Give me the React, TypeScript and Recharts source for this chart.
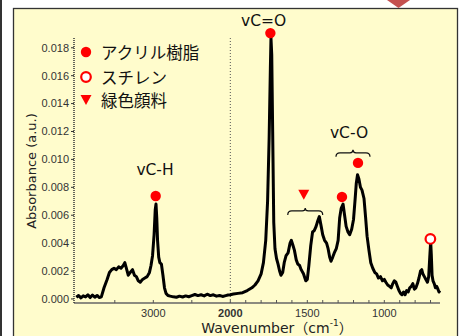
import { ComposedChart, Line, XAxis, YAxis, ReferenceLine, ReferenceDot } from 'recharts'

// spectrum (cm-1 / absorbance)
const wavenumbers = [
  4000, 3970, 3940, 3910, 3880, 3850, 3820, 3790, 3760, 3730, 3700, 3675, 3640, 3600, 3570, 3540, 3510, 3480,
  3450, 3420, 3390, 3370, 3345, 3325, 3300, 3270, 3245, 3220, 3195, 3170, 3140, 3110, 3080, 3050, 3030, 3010,
  2990, 2975, 2965, 2955, 2945, 2930, 2915, 2895, 2875, 2855, 2835, 2810, 2780, 2740, 2700, 2660, 2620, 2580,
  2540, 2500, 2460, 2420, 2380, 2340, 2300, 2260, 2220, 2180, 2140, 2100, 2060, 2030, 2000,
  1980, 1950, 1920, 1890, 1860, 1840, 1820, 1800, 1785, 1770, 1758, 1748, 1740, 1736, 1731, 1725, 1718, 1710,
  1700, 1690, 1680, 1671, 1660, 1650, 1638, 1625, 1612, 1604, 1595, 1584, 1572, 1562, 1550, 1540, 1525, 1510,
  1500, 1490, 1478, 1466, 1455, 1443, 1432, 1422, 1410, 1400, 1388, 1375, 1365, 1355, 1346, 1335, 1325, 1312,
  1300, 1290, 1280, 1268, 1258, 1248, 1236, 1225, 1212, 1200, 1190, 1182, 1174, 1165, 1155, 1145, 1132, 1122,
  1112, 1100, 1088, 1075, 1062, 1050, 1038, 1025, 1012, 1000, 990, 978, 966, 955, 945, 935, 925, 915, 905, 895,
  885, 875, 865, 855, 845, 835, 825, 815, 805, 795, 785, 775, 765, 757, 750, 740, 730, 720, 712, 705, 699, 695,
  690, 684, 676, 668, 660, 652, 645, 640,
]
const absorbance = [
  0.00012, 0.00025, 0.00008, 0.00022, 0.00015, 0.0003, 0.0001, 0.00028, 0.00012, 0.00025, 0.0001, 0.00015, 0.0008,
  0.0014, 0.0019, 0.0021, 0.0022, 0.0021, 0.0023, 0.0022, 0.0024, 0.0026, 0.0021, 0.0017, 0.0019, 0.0021, 0.0017,
  0.0016, 0.0013, 0.0012, 0.0014, 0.0015, 0.0016, 0.0019, 0.0024, 0.0031, 0.0046, 0.0064, 0.0068, 0.0058, 0.0042,
  0.003, 0.0026, 0.0025, 0.0017, 0.0008, 0.0004, 0.00025, 0.0002, 0.00015, 0.00012, 0.0002, 0.00014, 0.00022,
  0.00016, 0.00024, 0.00032, 0.00024, 0.0003, 0.00022, 0.00034, 0.00024, 0.0003, 0.0002, 0.00025, 0.00018,
  0.00024, 0.00028, 0.0003,
  0.00035, 0.0004, 0.00045, 0.0006, 0.0008, 0.001, 0.0013, 0.0018, 0.0026, 0.0042, 0.007, 0.0115, 0.0165, 0.0187,
  0.0175, 0.012, 0.0055, 0.0036, 0.0029, 0.0025, 0.002, 0.0017, 0.0019, 0.0026, 0.0031, 0.0033, 0.004, 0.0042,
  0.0039, 0.0035, 0.0028, 0.0025, 0.0024, 0.0021, 0.0018, 0.0013, 0.0014, 0.0024, 0.0038, 0.0048, 0.0049, 0.0052,
  0.0056, 0.0059, 0.0052, 0.0046, 0.0042, 0.004, 0.0036, 0.003, 0.0027, 0.003, 0.0033, 0.0036, 0.0042, 0.0058,
  0.0065, 0.0068, 0.006, 0.0052, 0.0048, 0.0046, 0.005, 0.0057, 0.0071, 0.0083, 0.0089, 0.0086, 0.008, 0.0078,
  0.0072, 0.0059, 0.0045, 0.0035, 0.0026, 0.0022, 0.0019, 0.0018, 0.0015, 0.0016, 0.0013, 0.0014, 0.0012, 0.001,
  0.0009, 0.0008, 0.0011, 0.0013, 0.0012, 0.0009, 0.0006, 0.0004, 0.0003, 0.0005, 0.0003, 0.0006, 0.0005, 0.0008,
  0.0009, 0.0011, 0.0007, 0.0008, 0.0011, 0.0015, 0.002, 0.0021, 0.0018, 0.0016, 0.0014, 0.0012, 0.0016, 0.003,
  0.0041, 0.0032, 0.0017, 0.0013, 0.0011, 0.0008, 0.0009, 0.0007, 0.0005, 0.0006,
]

const yTicks = [0, 0.002, 0.004, 0.006, 0.008, 0.01, 0.012, 0.014, 0.016, 0.018]
const xTickWavenumbers = [3500, 3000, 2500, 2000, 1900, 1800, 1700, 1600, 1500, 1400, 1300, 1200, 1100, 1000, 900, 800, 700]
const xTickLabels = [3000, 2000, 1500, 1000]

// peak markers
const acrylicPeaks = [2969, 1740, 1275, 1171]
const acrylicHeights = [0.00738, 0.01905, 0.00731, 0.00975]
const styrenePeaks = [701]
const styreneHeights = [0.0043]
const pigmentPeaks = [1523]
const pigmentHeights = [0.00746]

const bandNames = ['vC-H', 'vC=O', 'vC-O']
const bandNameAt = [2978, 1784, 1229]
const bandNameHeight = [0.00925, 0.01993, 0.0119]

const braceFrom = [1314, 1627]
const braceTo = [1093, 1400]
const braceHeight = [0.01047, 0.00631]

const legendNames = ['アクリル樹脂', 'スチレン', '緑色顔料']

// axis is compressed above 2000 cm-1 (half scale)
const BREAK = 2000
const toT = (w: number) => (w >= BREAK ? 4000 - w : 2000 + 2 * (BREAK - w))
const fromT = (t: number) => (t <= 2000 ? 4000 - t : BREAK - (t - 2000) / 2)
const T_MIN = -30
const T_MAX = 4723

const W = 462
const H = 336
const M = { top: 38, right: 22, bottom: 3, left: 0 }
const Y_W = 74
const PX_PER_T = (W - M.right - M.left - Y_W) / (T_MAX - T_MIN)

const data = wavenumbers.map((w, i) => ({ t: toT(w), a: absorbance[i] }))

const RED = '#ff0000'
const tickFont = '"Liberation Sans", Arial, sans-serif'
const textFont = '"DejaVu Sans", "Noto Sans CJK JP", sans-serif'

function XTick(props: any) {
  const { x, y, payload } = props
  const w = Math.round(fromT(payload.value))
  const show = xTickLabels.includes(w)
  return (
    <g>
      <line x1={x} x2={x} y1={y} y2={y - 3} stroke="#555" />
      {show && (
        <text x={x} y={y + 14} textAnchor="middle" fontSize={11} fill="#333" fontFamily={tickFont} fontWeight={w === 2000 ? 'bold' : 'normal'}>
          {w}
        </text>
      )}
    </g>
  )
}

const filledDot = (p: any) => <circle cx={p.cx} cy={p.cy} r={5.2} fill={RED} />
const openDot = (p: any) => <circle cx={p.cx} cy={p.cy} r={4.8} fill="#fff" stroke={RED} strokeWidth={2.2} />
const triangle = (p: any) => (
  <polygon points={`${p.cx - 5.5},${p.cy - 5} ${p.cx + 5.5},${p.cy - 5} ${p.cx},${p.cy + 5}`} fill={RED} />
)

function brace(halfW: number) {
  return (p: any) => {
    const { cx, cy } = p
    const l = cx - halfW
    const r = cx + halfW
    const d = `M${l},${cy + 4} Q${l},${cy} ${l + 4},${cy} L${cx - 3},${cy} Q${cx},${cy} ${cx},${cy - 3} Q${cx},${cy} ${cx + 3},${cy} L${r - 4},${cy} Q${r},${cy} ${r},${cy + 4}`
    return <path d={d} fill="none" stroke="#111" strokeWidth={1.2} />
  }
}

export default function App() {
  return (
    <div style={{ position: 'absolute', left: 0, top: 0, width: W, height: H, background: '#fff', overflow: 'hidden' }}>
      <svg width={W} height={H} style={{ position: 'absolute', left: 0, top: 0 }}>
        <line x1={1} x2={1} y1={0} y2={H} stroke="#333" strokeWidth={2} />
        <rect x={13.5} y={8.5} width={444} height={340} fill="#fffccc" stroke="#333" strokeWidth={1.3} />
        <polygon points="387,0 410,0 398.5,8" fill="#c4504f" />
      </svg>
      <div style={{ position: 'absolute', left: 0, top: 0 }}>
        <ComposedChart width={W} height={H} data={data} margin={M}>
          <XAxis
            dataKey="t"
            type="number"
            domain={[T_MIN, T_MAX]}
            ticks={xTickWavenumbers.map(toT)}
            interval={0}
            tick={<XTick />}
            tickLine={false}
            tickSize={0}
            tickMargin={0}
            height={30}
            axisLine={{ stroke: '#666', strokeWidth: 1.5 }}
          />
          <YAxis
            type="number"
            domain={[-0.00029, 0.0187]}
            ticks={yTicks}
            interval={0}
            width={Y_W}
            tickFormatter={(v: number) => v.toFixed(3)}
            tick={{ fontSize: 11, fill: '#333', fontFamily: tickFont }}
            tickSize={3}
            tickMargin={2}
            tickLine={{ stroke: '#333' }}
            axisLine={{ stroke: '#333', strokeWidth: 1.5, strokeDasharray: '1 1' }}
          />
          <ReferenceLine x={toT(2000)} stroke="#555" strokeDasharray="1 2" ifOverflow="visible" />
          <Line type="linear" dataKey="a" stroke="#000" strokeWidth={3} strokeLinejoin="round" dot={false} isAnimationActive={false} />
          {braceFrom.map((w, i) => (
            <ReferenceDot
              key={`b${i}`}
              x={(toT(w) + toT(braceTo[i])) / 2}
              y={braceHeight[i]}
              ifOverflow="visible"
              shape={brace(((toT(braceTo[i]) - toT(w)) * PX_PER_T) / 2)}
            />
          ))}
          {bandNames.map((n, i) => (
            <ReferenceDot
              key={n}
              x={toT(bandNameAt[i])}
              y={bandNameHeight[i]}
              ifOverflow="visible"
              shape={(p: any) => (
                <text x={p.cx} y={p.cy} textAnchor="middle" dominantBaseline="central" fontSize={15.5} fill="#111" fontFamily={textFont}>
                  {n}
                </text>
              )}
            />
          ))}
          {acrylicPeaks.map((w, i) => (
            <ReferenceDot key={`a${i}`} x={toT(w)} y={acrylicHeights[i]} ifOverflow="visible" shape={filledDot} />
          ))}
          {styrenePeaks.map((w, i) => (
            <ReferenceDot key={`s${i}`} x={toT(w)} y={styreneHeights[i]} ifOverflow="visible" shape={openDot} />
          ))}
          {pigmentPeaks.map((w, i) => (
            <ReferenceDot key={`p${i}`} x={toT(w)} y={pigmentHeights[i]} ifOverflow="visible" shape={triangle} />
          ))}
        </ComposedChart>
      </div>
      <svg width={W} height={H} style={{ position: 'absolute', left: 0, top: 0, pointerEvents: 'none' }}>
        {filledDot({ cx: 86, cy: 52 })}
        {openDot({ cx: 86, cy: 77 })}
        {triangle({ cx: 86, cy: 100 })}
        {legendNames.map((n, i) => (
          <text key={n} x={101} y={[52, 77, 100][i]} dominantBaseline="central" fontSize={16.5} fill="#111" fontFamily='"Noto Sans CJK JP", sans-serif'>
            {n}
          </text>
        ))}
        <text x={31} y={171} transform="rotate(-90 31 171)" textAnchor="middle" dominantBaseline="central" fontSize={13} fill="#222" fontFamily={textFont}>
          Absorbance (a.u.)
        </text>
        <text x={277} y={328} textAnchor="middle" dominantBaseline="central" fontSize={14} fill="#222" fontFamily={textFont}>
          Wavenumber（cm<tspan fontSize={9} dy={-5}>-1</tspan>
          <tspan dy={5}>）</tspan>
        </text>
      </svg>
    </div>
  )
}
